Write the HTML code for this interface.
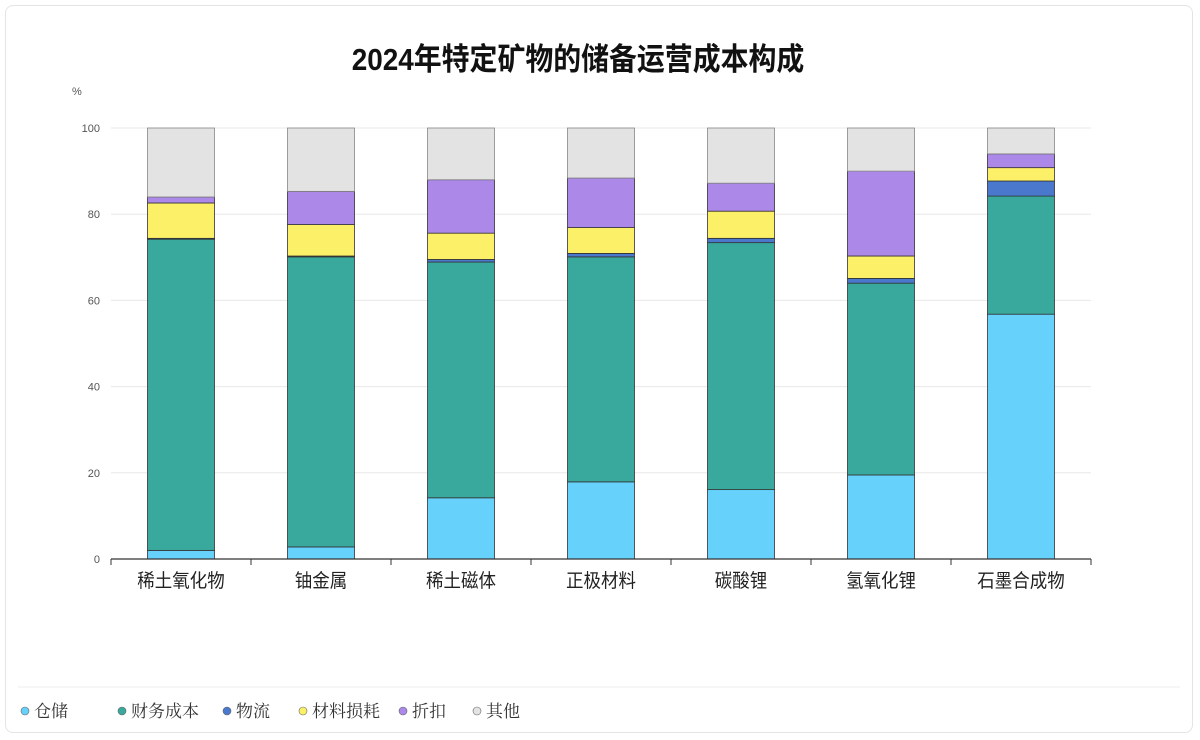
<!DOCTYPE html>
<html><head><meta charset="utf-8"><style>
body{margin:0;background:#fff;font-family:"Liberation Sans","Noto Sans CJK SC",sans-serif;}
#card{position:absolute;left:5px;top:5px;width:1188px;height:728px;border:1px solid #e4e4e4;border-radius:8px;box-sizing:border-box;}
</style></head><body>
<div id="card"></div>
<svg id="chart" width="1200" height="740" style="position:absolute;left:0;top:0"></svg>
<script>
const categories=["稀土氧化物","铀金属","稀土磁体","正极材料","碳酸锂","氢氧化锂","石墨合成物"];
const seriesNames=["仓储","财务成本","物流","材料损耗","折扣","其他"];
const colors=["#66d1fb","#38a99c","#4a78cc","#fcf068","#ac88e8","#e3e3e3"];
const warehouse=[2.0,2.8,14.2,17.9,16.1,19.5,56.8];
const finance=[72.2,67.3,54.7,52.2,57.3,44.5,27.4];
const logistics=[0.2,0.2,0.6,0.8,1.0,1.1,3.5];
const material=[8.2,7.3,6.1,6.0,6.3,5.2,3.1];
const discount=[1.4,7.7,12.4,11.5,6.5,19.7,3.2];
const other=[16.0,14.7,12.0,11.6,12.8,10.0,6.0];
const yTicks=[0,20,40,60,80,100];
const series=[warehouse,finance,logistics,material,discount,other];
const NS="http://www.w3.org/2000/svg";
const svg=document.getElementById('chart');
const x0=111,x1=1091,y0=559,y1=128;
const band=(x1-x0)/categories.length,bw=67;
const y=v=>y0-(v/100)*(y0-y1);
function mk(t,a,txt){const e=document.createElementNS(NS,t);for(const k in a)e.setAttribute(k,a[k]);if(txt!==undefined)e.textContent=txt;svg.appendChild(e);return e;}
let t=mk('text',{x:578,y:70,'text-anchor':'middle','font-size':31,'font-weight':'bold',fill:'#111',transform:'translate(578 70) scale(0.9 1) translate(-578 -70)'},'2024年特定矿物的储备运营成本构成');


t=mk('text',{x:72,y:95,'font-size':11,fill:'#555'},'%');


yTicks.forEach(v=>{
 const g=mk('line',{x1:x0,x2:x1,y1:y(v),y2:y(v),stroke:'#e8e8e8','stroke-width':1});
 
 
 const l=mk('text',{x:100,y:y(v)+4,'text-anchor':'end','font-size':11,fill:'#555'},String(v));
 
 
});
categories.forEach((c,i)=>{
 const cx=x0+band*(i+0.5);
 let acc=0;
 series.forEach((s,j)=>{
  const v=s[i];
  const r=mk('rect',{x:cx-bw/2,y:y(acc+v),width:bw,height:y(acc)-y(acc+v),fill:colors[j],stroke:j==5?'#888':'#333','stroke-width':0.8});
  
  
  acc+=v;
 });
 const l=mk('text',{x:cx,y:587,'text-anchor':'middle','font-size':19,fill:'#222',transform:`translate(${cx} 587) scale(0.92 1) translate(${-cx} -587)`},c);
 
 
});
for(let i=0;i<=categories.length;i++){
 const tk=mk('line',{x1:x0+band*i,x2:x0+band*i,y1:y0,y2:y0+6,stroke:'#333'});
 
 
}
const ax=mk('line',{x1:x0,x2:x1,y1:y0,y2:y0,stroke:'#333','stroke-width':1.2});


const sep=mk('line',{x1:18,x2:1180,y1:687,y2:687,stroke:'#eee'});


const lx=[25,122,227,303,403,477];
seriesNames.forEach((n,j)=>{
 const c=mk('circle',{cx:lx[j],cy:711,r:4,fill:colors[j],stroke:'#666','stroke-width':0.6});
 
 
 const l=mk('text',{x:lx[j]+9,y:717,'font-size':17,fill:'#333','font-family':'"Noto Serif CJK SC",serif'},n);
 
 
});
</script>
</body></html>
